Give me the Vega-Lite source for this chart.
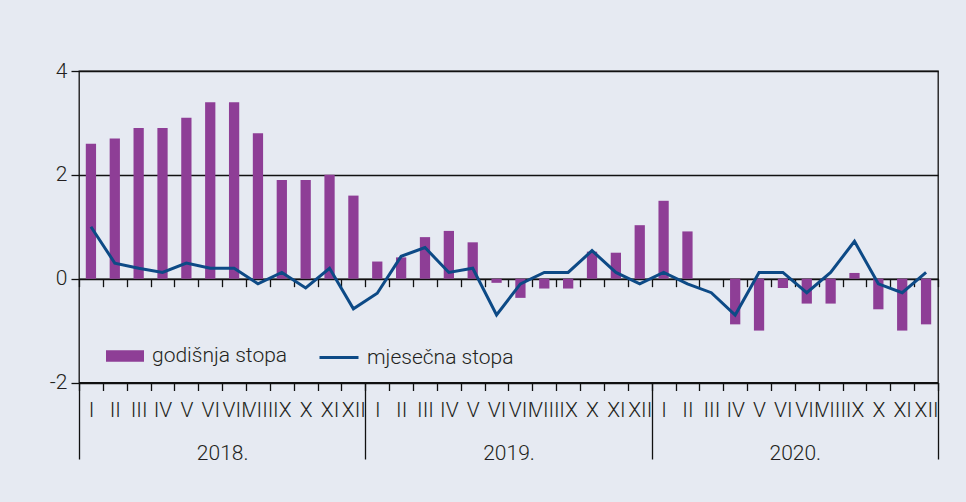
{
  "$schema": "https://vega.github.io/schema/vega-lite/v6.json",
  "width": 859,
  "height": 311.5,
  "autosize": {"type": "none"},
  "padding": {"left": 79, "top": 71, "right": 28, "bottom": 119.5},
  "background": "#e6eaf2",
  "config": {
    "font": "Roboto",
    "view": {"stroke": "#111111", "strokeWidth": 1.3},
    "axis": {"labelColor": "#231f20", "labelFont": "Roboto", "labelFontWeight": 300, "labelFontSize": 21, "labelAngle": 0},
    "legend": {"labelColor": "#231f20", "labelFont": "Roboto", "labelFontWeight": 300, "labelFontSize": 21}
  },
  "data": {
    "values": [
      {"m": "2018-01", "god": 2.6, "mje": 1.0},
      {"m": "2018-02", "god": 2.7, "mje": 0.3},
      {"m": "2018-03", "god": 2.9, "mje": 0.2},
      {"m": "2018-04", "god": 2.9, "mje": 0.12},
      {"m": "2018-05", "god": 3.1, "mje": 0.3},
      {"m": "2018-06", "god": 3.4, "mje": 0.2},
      {"m": "2018-07", "god": 3.4, "mje": 0.2},
      {"m": "2018-08", "god": 2.8, "mje": -0.1},
      {"m": "2018-09", "god": 1.9, "mje": 0.12},
      {"m": "2018-10", "god": 1.9, "mje": -0.18},
      {"m": "2018-11", "god": 2.0, "mje": 0.2},
      {"m": "2018-12", "god": 1.6, "mje": -0.58},
      {"m": "2019-01", "god": 0.33, "mje": -0.28},
      {"m": "2019-02", "god": 0.41, "mje": 0.43},
      {"m": "2019-03", "god": 0.8, "mje": 0.6},
      {"m": "2019-04", "god": 0.92, "mje": 0.12},
      {"m": "2019-05", "god": 0.7, "mje": 0.2},
      {"m": "2019-06", "god": -0.08, "mje": -0.7},
      {"m": "2019-07", "god": -0.37, "mje": -0.1},
      {"m": "2019-08", "god": -0.19, "mje": 0.12},
      {"m": "2019-09", "god": -0.19, "mje": 0.12},
      {"m": "2019-10", "god": 0.52, "mje": 0.54},
      {"m": "2019-11", "god": 0.5, "mje": 0.12},
      {"m": "2019-12", "god": 1.03, "mje": -0.1},
      {"m": "2020-01", "god": 1.5, "mje": 0.12},
      {"m": "2020-02", "god": 0.91, "mje": -0.1},
      {"m": "2020-03", "god": 0.0, "mje": -0.27},
      {"m": "2020-04", "god": -0.88, "mje": -0.7},
      {"m": "2020-05", "god": -1.0, "mje": 0.12},
      {"m": "2020-06", "god": -0.18, "mje": 0.12},
      {"m": "2020-07", "god": -0.48, "mje": -0.27},
      {"m": "2020-08", "god": -0.48, "mje": 0.12},
      {"m": "2020-09", "god": 0.11, "mje": 0.72},
      {"m": "2020-10", "god": -0.59, "mje": -0.1},
      {"m": "2020-11", "god": -1.0, "mje": -0.27},
      {"m": "2020-12", "god": -0.88, "mje": 0.12}
    ]
  },
  "resolve": {"axis": {"x": "independent"}},
  "layer": [
    {
      "mark": {"type": "bar", "width": {"band": 0.43}},
      "encoding": {
        "x": {
          "field": "m", "type": "ordinal",
          "scale": {"type": "band", "paddingInner": 0, "paddingOuter": 0},
          "axis": {
            "orient": "bottom", "offset": -103.83, "title": null,
            "labels": false, "grid": false,
            "domain": true, "domainColor": "#111111", "domainWidth": 1.3,
            "ticks": true, "tickBand": "extent", "tickSize": 8, "tickColor": "#111111", "tickWidth": 1.3
          }
        },
        "y": {
          "field": "god", "type": "quantitative",
          "scale": {"domain": [-2, 4], "nice": false, "zero": false},
          "axis": {
            "title": null, "values": [-2, 0, 2, 4], "domain": false,
            "grid": true, "gridColor": "#111111", "gridWidth": 1.3,
            "ticks": true, "tickSize": 8, "tickColor": "#111111", "tickWidth": 1.3,
            "labelPadding": 4, "labelExpr": "'' + datum.value"
          }
        },
        "fill": {
          "datum": "godišnja stopa",
          "scale": {"domain": ["godišnja stopa"], "range": ["#8e3e96"]},
          "legend": {
            "orient": "none", "legendX": 27, "legendY": 266, "title": null, "padding": 0,
            "symbolType": "M-1,-0.3L1,-0.3L1,0.3L-1,0.3Z", "symbolSize": 1444,
            "symbolStrokeWidth": 0, "labelOffset": 8
          }
        }
      }
    },
    {
      "mark": {"type": "line", "strokeWidth": 3, "interpolate": "linear"},
      "encoding": {
        "x": {
          "field": "m", "type": "ordinal",
          "axis": {
            "orient": "bottom", "offset": 0, "title": null, "grid": false,
            "domain": false,
            "ticks": true, "tickBand": "extent", "tickSize": 8, "tickColor": "#111111", "tickWidth": 1.3,
            "labels": true, "labelOverlap": false, "labelBound": false, "labelFlush": false,
            "labelBaseline": "alphabetic", "labelPadding": 26,
            "labelExpr": "datum.extra ? '' : ['I','II','III','IV','V','VI','VII','VIII','IX','X','XI','XII'][toNumber(slice(datum.value, 5)) - 1]"
          }
        },
        "y": {"field": "mje", "type": "quantitative", "axis": {
            "title": null, "values": [-2, 0, 2, 4], "domain": false,
            "grid": true, "gridColor": "#111111", "gridWidth": 1.3,
            "ticks": true, "tickSize": 8, "tickColor": "#111111", "tickWidth": 1.3,
            "labelPadding": 4, "labelExpr": "'' + datum.value"
          }},
        "stroke": {
          "datum": "mjesečna stopa",
          "scale": {"domain": ["mjesečna stopa"], "range": ["#0d4a86"]},
          "legend": {
            "orient": "none", "legendX": 239, "legendY": 265.5, "title": null, "padding": 0,
            "symbolType": "stroke", "symbolSize": 1521, "symbolStrokeWidth": 3, "labelOffset": 7
          }
        }
      }
    },
    {
      "mark": {"type": "point", "opacity": 0},
      "encoding": {
        "x": {
          "field": "m", "type": "ordinal",
          "axis": {
            "orient": "bottom", "offset": 0, "title": null, "grid": false,
            "domain": false,
            "ticks": true, "tickBand": "extent", "tickSize": 76.5, "tickWidth": 1.3,
            "tickColor": {"condition": {"test": "datum.extra || indexof(datum.value, '-12') > 0", "value": "#111111"}, "value": "transparent"},
            "labels": true, "labelOverlap": false, "labelBound": false, "labelFlush": false,
            "labelBaseline": "alphabetic", "labelPadding": 0, "labelOffset": 11.93,
            "labelExpr": "datum.extra ? '' : (slice(datum.value, 5) == '06' ? slice(datum.value, 0, 4) + '.' : '')"
          }
        },
        "y": {"field": "mje", "type": "quantitative", "axis": {
            "title": null, "values": [-2, 0, 2, 4], "domain": false,
            "grid": true, "gridColor": "#111111", "gridWidth": 1.3,
            "ticks": true, "tickSize": 8, "tickColor": "#111111", "tickWidth": 1.3,
            "labelPadding": 4, "labelExpr": "'' + datum.value"
          }}
      }
    }
  ]
}
